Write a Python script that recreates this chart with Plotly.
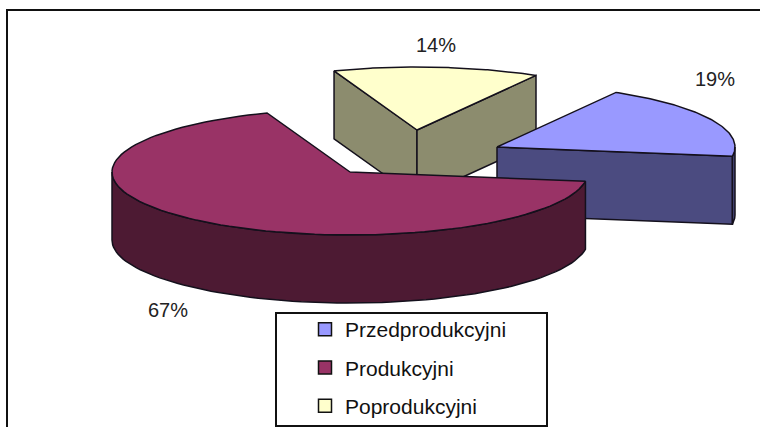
import numpy as np
import plotly.graph_objects as go

categories = ["Przedprodukcyjni", "Produkcyjni", "Poprodukcyjni"]
values = [19, 67, 14]
top_colors = ["#9999ff", "#993366", "#ffffcc"]
side_colors = ["#4b4b80", "#4d1a33", "#8c8c6e"]

# Layout of the exploded 3D pie, in pixels of the 760x427 page
W, H = 760, 427
START = -60.0           # angle of the first slice edge, clockwise from +x
RX, RY = 238.0, 63.0    # ellipse radii of the pie top
DEPTH = 68.0            # height of the pie wall
CENTERS = [(497, 147), (350, 172), (417, 130)]  # exploded slice apexes
LABEL_POS = [(715, 81), (168, 312), (436, 47)]
EDGE = "#14101c"

def pt(c, a):
    r = np.radians(a)
    return c[0] + RX * np.cos(r), c[1] + RY * np.sin(r)

spans = []
a = START
for v in values:
    spans.append((a, a + v / sum(values) * 360))
    a = spans[-1][1]

def poly(xs, ys, fill, name=None):
    return go.Scatter(x=list(xs) + [xs[0]], y=list(ys) + [ys[0]], mode="lines", fill="toself",
                      fillcolor=fill, line=dict(color=EDGE, width=1.5),
                      hoverinfo="skip", showlegend=False, name=name)

def wedge_traces(i):
    c = CENTERS[i]
    a0, a1 = spans[i]
    out = []
    # cut walls that face the viewer
    for a_edge in (a0, a1):
        ex, ey = pt(c, a_edge)
        facing = (a_edge == a1 and i == 0) or (i == 2)
        if facing:
            out.append(poly([c[0], ex, ex, c[0]], [c[1], ey, ey + DEPTH, c[1] + DEPTH], side_colors[i]))
    # outer round wall: only the part on the near half of the ellipse
    lo, hi = max(a0, 0), min(a1, 180)
    if hi > lo:
        t = np.linspace(lo, hi, 80)
        px = c[0] + RX * np.cos(np.radians(t))
        py = c[1] + RY * np.sin(np.radians(t))
        out.append(poly(np.r_[px, px[::-1]], np.r_[py, py[::-1] + DEPTH], side_colors[i]))
    # top face
    t = np.linspace(a0, a1, 100)
    px = c[0] + RX * np.cos(np.radians(t))
    py = c[1] + RY * np.sin(np.radians(t))
    out.append(poly(np.r_[c[0], px], np.r_[c[1], py], top_colors[i], categories[i]))
    return out

fig = go.Figure()
for i in (2, 0, 1):      # back to front
    for tr in wedge_traces(i):
        fig.add_trace(tr)

# value labels
for i, v in enumerate(values):
    fig.add_trace(go.Scatter(x=[LABEL_POS[i][0]], y=[LABEL_POS[i][1]], mode="text", text=[f"{v}%"],
                             textposition="middle center", showlegend=False, hoverinfo="skip",
                             textfont=dict(family="Liberation Sans, Arial", size=20, color="#222222")))

# legend entries
for i, name in enumerate(categories):
    fig.add_trace(go.Scatter(x=[None], y=[None], mode="markers", name=name, legendgroup=name,
                             marker=dict(symbol="square", size=13, color=top_colors[i],
                                         line=dict(color="#111111", width=1.5))))

fig.update_layout(
    width=W, height=H, margin=dict(l=0, r=0, t=0, b=0, autoexpand=False),
    paper_bgcolor="white", plot_bgcolor="white",
    xaxis=dict(range=[0, W], visible=False, fixedrange=True),
    yaxis=dict(range=[H, 0], visible=False, fixedrange=True),
    legend=dict(x=305 / W, y=1 - 309 / H, xanchor="left", yanchor="top",
                bgcolor="rgba(0,0,0,0)", tracegroupgap=8,
                font=dict(family="Liberation Sans, Arial", size=21, color="#111111")),
    shapes=[
        dict(type="rect", x0=7, y0=10, x1=800, y1=460, line=dict(color="#111111", width=2), layer="below"),
        dict(type="rect", x0=276, y0=313, x1=547, y1=426, line=dict(color="#111111", width=2), layer="below"),
    ],
)
fig.write_html("out.html", config=dict(displayModeBar=False),
               post_script="document.body.style.margin='0';document.body.style.overflow='hidden';")
